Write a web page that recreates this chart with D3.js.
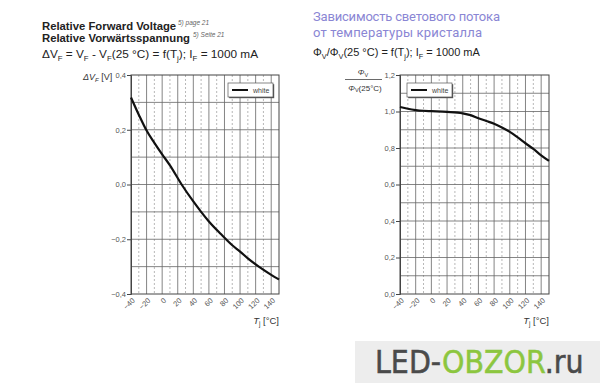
<!DOCTYPE html>
<html><head><meta charset="utf-8">
<script src="https://cdn.jsdelivr.net/npm/d3@7"></script>
<style>
html,body{margin:0;padding:0;background:#fff;}
svg{display:block;font-family:"Liberation Sans",Arial,sans-serif;}
</style></head>
<body>
<svg id="c" width="600" height="383"></svg>
<script>
// ---- data ----
const tempTicks = [-40,-20,0,20,40,60,80,100,120,140];
const vfTemps  = [-40,-30,-20,-10,0,10,25,40,50,60,75,90,100,110,125,140,150];
const vfValues = [0.318,0.255,0.197,0.152,0.11,0.07,0.0,-0.062,-0.1,-0.135,-0.18,-0.222,-0.245,-0.27,-0.302,-0.33,-0.347];
const vfTicks = [-0.4,-0.2,0.0,0.2,0.4];
const phiTemps  = [-40,-30,-20,-10,0,20,40,50,60,70,80,90,100,110,120,130,140,150];
const phiValues = [1.025,1.015,1.008,1.004,1.002,0.998,0.99,0.98,0.963,0.948,0.933,0.912,0.888,0.858,0.826,0.795,0.76,0.729];
const phiTicks = [0.0,0.2,0.4,0.6,0.8,1.0,1.2];
const seriesName = "white";

const svg = d3.select("#c");
const fmt = d => d3.format(".1f")(d).replace(".", ",");

function panel(x0, x1, yDomain, yTicks, yMinor, temps, vals, legX) {
  const y0 = 75, y1 = 294;
  const x = d3.scaleLinear().domain([-40,150]).range([x0,x1]);
  const y = d3.scaleLinear().domain(yDomain).range([y1,y0]);
  const g = svg.append("g");
  const minorX = d3.range(-30,150,20);
  g.selectAll(".mv").data(minorX).join("line")
    .attr("x1",d=>x(d)).attr("x2",d=>x(d)).attr("y1",y0).attr("y2",y1)
    .attr("stroke","#9a9a9a").attr("stroke-width",0.7).attr("stroke-dasharray","2,2");
  g.selectAll(".Mv").data(tempTicks.slice(1)).join("line")
    .attr("x1",d=>x(d)).attr("x2",d=>x(d)).attr("y1",y0).attr("y2",y1)
    .attr("stroke","#666").attr("stroke-width",0.8);
  g.selectAll(".h").data(yMinor).join("line")
    .attr("x1",x0).attr("x2",x1).attr("y1",d=>y(d)).attr("y2",d=>y(d))
    .attr("stroke","#666").attr("stroke-width",0.8);
  g.append("rect").attr("x",x0).attr("y",y0).attr("width",x1-x0).attr("height",y1-y0)
    .attr("fill","none").attr("stroke","#444").attr("stroke-width",1);
  const ya = g.append("g").attr("transform",`translate(${x0},0)`)
    .call(d3.axisLeft(y).tickValues(yTicks).tickSize(4).tickFormat(fmt));
  ya.select(".domain").attr("stroke","#444");
  ya.selectAll("line").attr("stroke","#444");
  ya.selectAll("text").attr("font-size",7.5).attr("fill","#555").attr("x",-5);
  const xa = g.append("g").attr("transform",`translate(0,${y1})`)
    .call(d3.axisBottom(x).tickValues(tempTicks).tickSize(0).tickFormat(d3.format("d")));
  xa.select(".domain").remove();
  xa.selectAll("text").attr("font-size",7.5).attr("fill","#555")
    .attr("text-anchor","end").attr("dy",0).attr("y",0)
    .attr("transform","translate(4,7) rotate(-45)");
  const pts = temps.map((t,i)=>[t,vals[i]]);
  g.append("path").datum(pts)
    .attr("d", d3.line().x(d=>x(d[0])).y(d=>y(d[1])).curve(d3.curveMonotoneX))
    .attr("fill","none").attr("stroke","#111").attr("stroke-width",2.2);
  const lg = g.append("g").attr("transform",`translate(${legX},83)`);
  lg.append("rect").attr("x",1.2).attr("y",1.2).attr("width",45).attr("height",14).attr("fill","#555");
  lg.append("rect").attr("width",45).attr("height",14).attr("fill","#fff").attr("stroke","#555").attr("stroke-width",0.7);
  lg.append("line").attr("x1",4).attr("x2",20).attr("y1",7).attr("y2",7).attr("stroke","#111").attr("stroke-width",2);
  lg.append("text").attr("x",25).attr("y",9.5).attr("font-size",7).attr("fill","#444").text(seriesName);
  const xl = g.append("text").attr("x",x1).attr("y",324).attr("text-anchor","end")
    .attr("font-size",9.5).attr("fill","#333");
  xl.append("tspan").attr("font-style","italic").text("T");
  xl.append("tspan").attr("font-size",6.5).attr("dy",2).text("j");
  xl.append("tspan").attr("dy",-2).text(" [°C]");
  return g;
}

panel(131, 279, [-0.4,0.4], vfTicks, d3.range(-3,4).map(i=>i/10), vfTemps, vfValues, 228);
panel(400, 549, [0,1.2], phiTicks, d3.range(1,12).map(i=>i/10), phiTemps, phiValues, 407);

// left y label
const yl = svg.append("text").attr("x",83).attr("y",80).attr("font-size",9).attr("fill","#333");
yl.append("tspan").attr("font-style","italic").text("ΔV");
yl.append("tspan").attr("font-style","italic").attr("font-size",6).attr("dy",1.5).text("F");
yl.append("tspan").attr("dy",-1.5).text(" [V]");
// right y label (fraction)
const n = svg.append("text").attr("x",363).attr("y",75).attr("text-anchor","middle").attr("font-size",8).attr("fill","#333");
n.append("tspan").attr("font-style","italic").text("Φ");
n.append("tspan").attr("font-size",5.5).attr("dy",1.5).text("V");
svg.append("line").attr("x1",345).attr("x2",382).attr("y1",79.5).attr("y2",79.5).attr("stroke","#444").attr("stroke-width",0.8);
const dn = svg.append("text").attr("x",365).attr("y",90.5).attr("text-anchor","middle").attr("font-size",8).attr("fill","#333");
dn.append("tspan").attr("font-style","italic").text("Φ");
dn.append("tspan").attr("font-size",5.5).attr("dy",1.5).text("V");
dn.append("tspan").attr("dy",-1.5).text("(25°C)");

// left titles
svg.append("text").attr("x",42).attr("y",29.5).attr("font-size",11.3).attr("font-weight","bold").attr("fill","#222").text("Relative Forward Voltage");
svg.append("text").attr("x",178).attr("y",25).attr("font-size",6.5).attr("font-style","italic").attr("fill","#666").text("5) page 21");
svg.append("text").attr("x",42).attr("y",41.5).attr("font-size",11.3).attr("font-weight","bold").attr("fill","#222").text("Relative Vorwärtsspannung");
svg.append("text").attr("x",193).attr("y",37).attr("font-size",6.5).attr("font-style","italic").attr("fill","#666").text("5) Seite 21");
const l3 = svg.append("text").attr("x",42).attr("y",58).attr("font-size",11.8).attr("fill","#222");
[["ΔV",0],["F",1],[" = V",0],["F",1],[" - V",0],["F",1],["(25 °C) = f(T",0],["j",1],["); I",0],["F",1],[" = 1000 mA",0]]
  .forEach(([t,s],i,arr)=>{
    const prev = i>0 ? arr[i-1][1] : 0;
    const dy = (s?3:0) - (prev?3:0);
    l3.append("tspan").attr("dy",dy).attr("font-size",s?7.8:11.8).text(t);
  });

// right titles
svg.append("text").attr("x",313).attr("y",21).attr("font-size",13).attr("fill","#8a86d4")
  .attr("font-family","Roboto, sans-serif").attr("textLength",187).text("Зависимость светового потока");
svg.append("text").attr("x",313).attr("y",37).attr("font-size",13).attr("fill","#8a86d4")
  .attr("font-family","Roboto, sans-serif").attr("textLength",169).text("от температуры кристалла");
const r3 = svg.append("text").attr("x",313).attr("y",56).attr("font-size",11).attr("fill","#222");
[["Φ",0],["V",1],["/Φ",0],["V",1],["(25 °C) = f(T",0],["j",1],["); I",0],["F",1],[" = 1000 mA",0]]
  .forEach(([t,s],i,arr)=>{
    const prev = i>0 ? arr[i-1][1] : 0;
    const dy = (s?3:0) - (prev?3:0);
    r3.append("tspan").attr("dy",dy).attr("font-size",s?7.3:11).text(t);
  });

// bottom banner
svg.append("rect").attr("x",355).attr("y",341).attr("width",245).attr("height",42).attr("fill","#ededed");
const b = svg.append("text").attr("x",375).attr("y",373).attr("font-size",31.7)
  .attr("font-family","'Liberation Sans Narrow','DejaVu Sans Condensed',sans-serif")
  .attr("stroke-width",0.5);
b.append("tspan").attr("fill","#4a4a4a").attr("stroke","#4a4a4a").text("LED-");
b.append("tspan").attr("fill","#8cc63f").attr("stroke","#8cc63f").text("OBZOR");
b.append("tspan").attr("fill","#4a4a4a").attr("stroke","#4a4a4a").text(".ru");
</script>
</body></html>
